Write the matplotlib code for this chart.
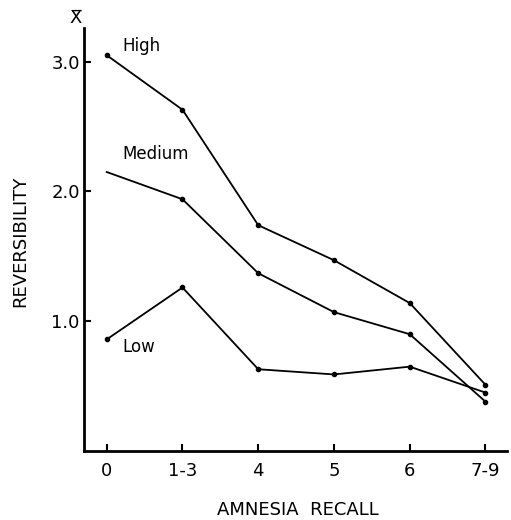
import matplotlib
matplotlib.use("Agg")
import matplotlib.pyplot as plt

categories = ["0", "1-3", "4", "5", "6", "7-9"]
high = [3.05, 2.63, 1.74, 1.47, 1.14, 0.51]
medium = [2.15, 1.94, 1.37, 1.07, 0.90, 0.38]
low = [0.86, 1.26, 0.63, 0.59, 0.65, 0.45]
ytick_vals = [1.0, 2.0, 3.0]
ytick_labels = ["1.0", "2.0", "3.0"]

plt.rcParams['font.family'] = ['DejaVu Sans']

fig = plt.figure(figsize=(5.11, 5.20), dpi=100)
ax = fig.add_axes([0.1644, 0.1327, 0.8272, 0.8135])

x = list(range(len(categories)))
ax.plot(x, high, color='black', lw=1.3, marker='o', ms=3)
ax.plot(x[1:], medium[1:], color='black', lw=1.3, marker='o', ms=3)
ax.plot(x[:2], medium[:2], color='black', lw=1.3)
ax.plot(x, low, color='black', lw=1.3, marker='o', ms=3)

ax.set_xlim(-0.3, 5.28)
ax.set_ylim(0, 3.26)
ax.set_xticks(x)
ax.set_xticklabels(categories, fontsize=13)
ax.set_yticks(ytick_vals)
ax.set_yticklabels(ytick_labels, fontsize=13)
ax.tick_params(axis='both', direction='in', length=5, width=1.5, color='black')
ax.tick_params(axis='x', pad=8)
ax.tick_params(axis='y', pad=3)

for s in ['top', 'right']:
    ax.spines[s].set_visible(False)
for s in ['left', 'bottom']:
    ax.spines[s].set_linewidth(2)

ax.text(0.2, 3.12, "High", fontsize=12, va='center', ha='left')
ax.text(0.2, 2.29, "Medium", fontsize=12, va='center', ha='left')
ax.text(0.2, 0.80, "Low", fontsize=12, va='center', ha='left')

fig.text(76/511, 1 - 18/520, "X\u0305", fontsize=13, ha='center', va='center')
fig.text(20/511, 1 - 241/520, "REVERSIBILITY", fontsize=13, rotation=90,
         ha='center', va='center')
fig.text(298/511, 1 - 510/520, "AMNESIA  RECALL", fontsize=13,
         ha='center', va='center')

fig.savefig("out.png", dpi=100)
